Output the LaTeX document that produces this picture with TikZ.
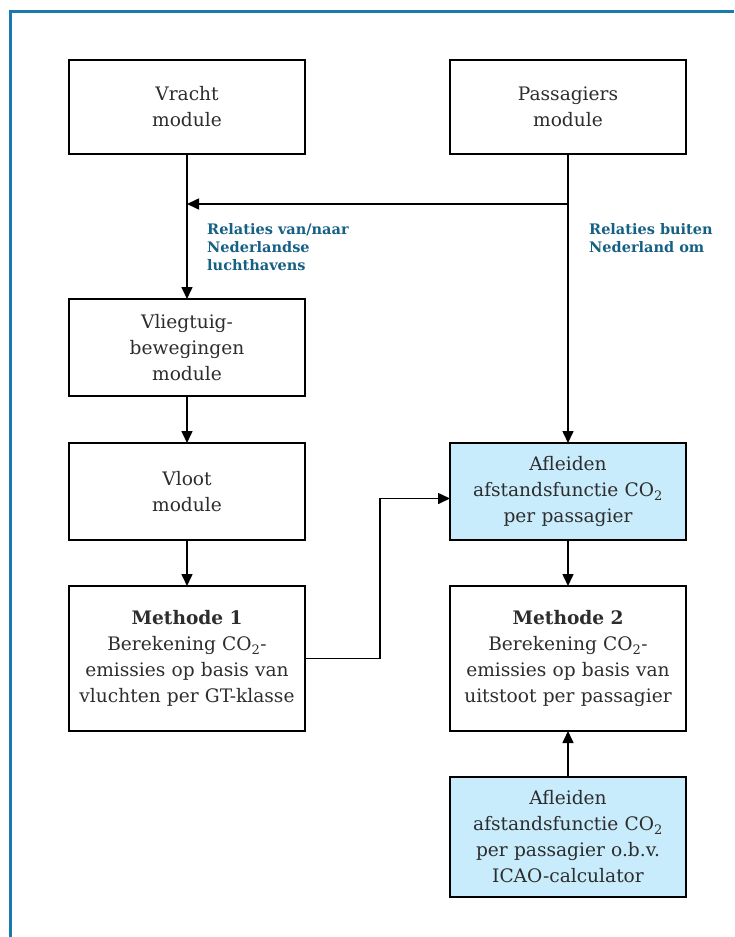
\documentclass[tikz,border=0pt]{standalone}
\usepackage{fontspec}
\setmainfont{DejaVu Serif}
\usetikzlibrary{positioning, arrows.meta, calc}

\definecolor{frameblue}{RGB}{24,122,175}
\definecolor{labelblue}{RGB}{22,96,132}
\definecolor{lightblue}{RGB}{200,236,252}
\definecolor{textgrey}{RGB}{45,45,45}

\tikzset{
  module/.style={draw, line width=1.8pt, minimum width=236pt, text width=230pt,
    align=center, font=\fontsize{18.6}{26}\selectfont, text=textgrey,
    inner sep=0pt, outer sep=0pt},
  calcbox/.style={module, fill=lightblue},
  flow/.style={-{Triangle[length=12pt,width=11pt]}, line width=1.6pt},
  relation/.style={font=\fontsize{14.5}{18}\selectfont\bfseries, text=labelblue,
    align=left, inner sep=0pt, anchor=north west}
}

\begin{document}
\begin{tikzpicture}[x=1pt, y=1pt, node distance=145pt]
   \useasboundingbox (0,0) rectangle (734,-937);
   \draw[frameblue, line width=3pt] (10,-937) -- (10,-11) -- (734,-11);

   % left column
   \node[module, minimum height=94pt] (vracht) at (187,-107) {Vracht\\module};
   \node[module, minimum height=97pt] (vliegtuig) [below=of vracht] {Vliegtuig-\\bewegingen\\module};
   \node[module, minimum height=97pt] (vloot) [below=47pt of vliegtuig] {Vloot\\module};
   \node[module, minimum height=145pt] (m1) [below=46pt of vloot]
      {\textbf{Methode 1}\\Berekening CO\textsubscript{2}-\\emissies op basis van\\vluchten per GT-klasse};

   % right column
   \node[module, minimum height=94pt] (pass) [right=of vracht] {Passagiers\\module};
   \node[calcbox, minimum height=97pt] (afl) [right=of vloot]
      {Afleiden\\afstandsfunctie CO\textsubscript{2}\\per passagier};
   \node[module, minimum height=145pt] (m2) [right=of m1]
      {\textbf{Methode 2}\\Berekening CO\textsubscript{2}-\\emissies op basis van\\uitstoot per passagier};
   \node[calcbox, minimum height=120pt] (icao) [below=46pt of m2]
      {Afleiden\\afstandsfunctie CO\textsubscript{2}\\per passagier o.b.v.\\ICAO-calculator};

   \coordinate (psplit) at ($(pass.south)+(0,-50)$);
   \coordinate (vsplit) at (vracht.south |- psplit);

   \draw[flow] (vracht) -- (vliegtuig);
   \draw[flow] (vliegtuig) -- (vloot);
   \draw[flow] (vloot) -- (m1);
   \draw[flow] (pass) -- (afl);
   \draw[flow] (psplit) -- (vsplit);
   \draw[flow] (afl) -- (m2);
   \draw[flow] (icao) -- (m2);
   \draw[flow] (m1.east) -- ++(75,0) |- ($(afl.west)+(0,-7)$);

   \node[relation] (nl) at ($(vsplit)+(20,-19)$) {Relaties van/naar\\Nederlandse\\luchthavens};
   \node[relation] (buiten) at ($(psplit)+(21,-19)$) {Relaties buiten\\Nederland om};
\end{tikzpicture}
\end{document}
